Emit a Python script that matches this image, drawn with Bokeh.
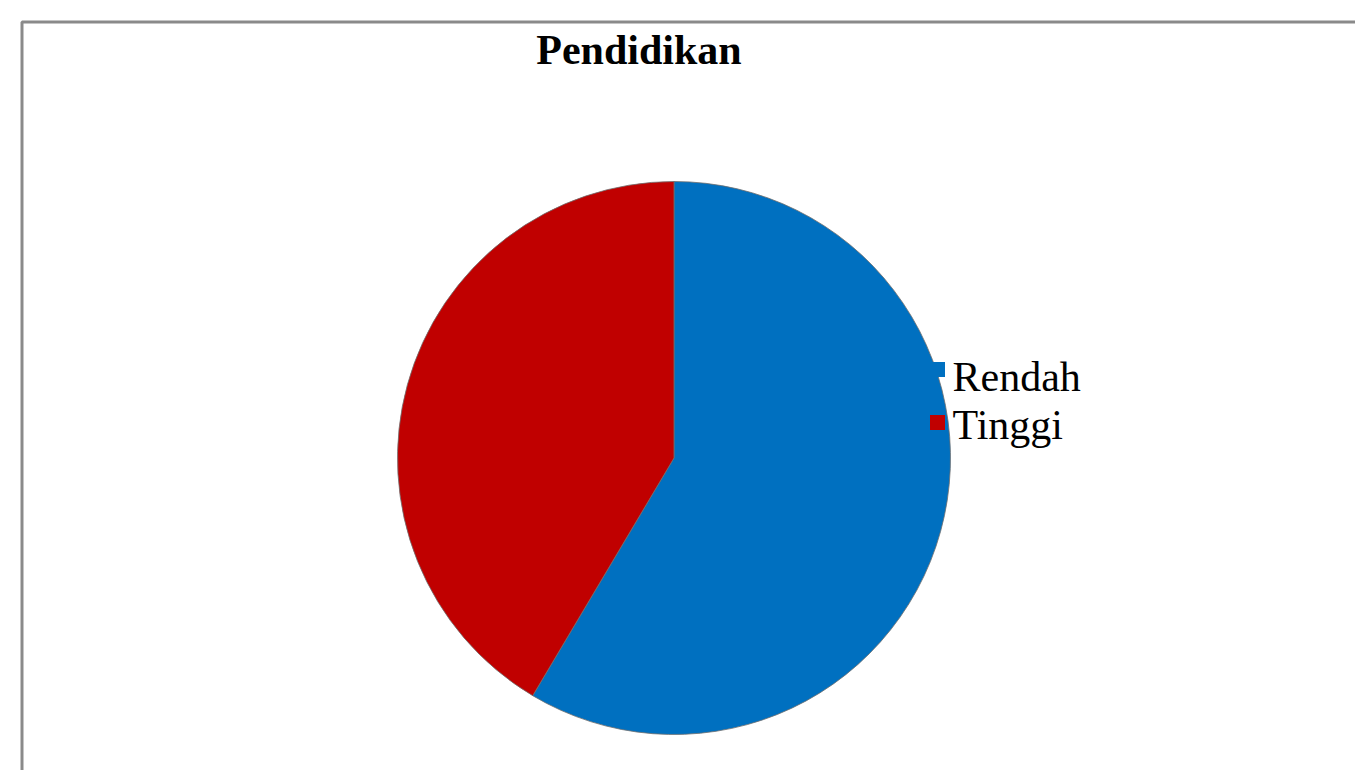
import numpy as np
from bokeh.plotting import figure
from bokeh.models import Range1d, ColumnDataSource
from bokeh.core.properties import value
from bokeh.embed import file_html
from bokeh.resources import INLINE

title = "Pendidikan"
categories = ["Rendah", "Tinggi"]
counts = [24, 17]
colors = ["#0070C0", "#C00000"]

W, H = 1355, 770
# data coordinates: x = pixels from left, y = H - pixels from top
p = figure(width=W, height=H, output_backend="svg", toolbar_location=None,
           x_range=Range1d(0, W), y_range=Range1d(0, H),
           min_border=0, outline_line_color=None)
p.axis.visible = False
p.grid.visible = False
p.background_fill_color = "white"

def Y(py):
    return H - py

# frame border (cropped at right and bottom)
p.line(x=[21.5, 21.5, W + 10], y=[Y(H + 10), Y(21.5), Y(21.5)], line_color="#8a8a8a", line_width=3)

# pie
vals = np.array(counts, dtype=float)
frac = vals / vals.sum()
ends = np.pi / 2 - 2 * np.pi * np.cumsum(frac)
starts = np.concatenate([[np.pi / 2], ends[:-1]])
src = ColumnDataSource(dict(cat=categories, start=starts, end=ends, color=colors))
cx, cy, r = 673.5, Y(457.5), 276.5
p.wedge(x=cx, y=cy, radius=r, start_angle="start", end_angle="end", direction="clock",
        fill_color="color", line_color="#6f6f6f", line_width=0.8, source=src)

# title
p.text(x=[638.5], y=[Y(49)], text=[title], text_font=value("Liberation Serif"),
       text_font_style="bold", text_font_size="42px", text_align="center",
       text_baseline="alphabetic", text_color="black")

# legend
leg_y = [Y(369), Y(422)]
p.scatter(x=[937] * len(categories), y=leg_y, marker="square", size=15,
          fill_color=colors, line_color=None)
p.text(x=[952] * len(categories), y=[Y(376), Y(424)], text=categories,
       text_font=value("Liberation Serif"), text_font_size="42px",
       text_baseline="alphabetic", text_align="left", text_color="black")

open("out.html", "w").write(file_html(p, INLINE))
